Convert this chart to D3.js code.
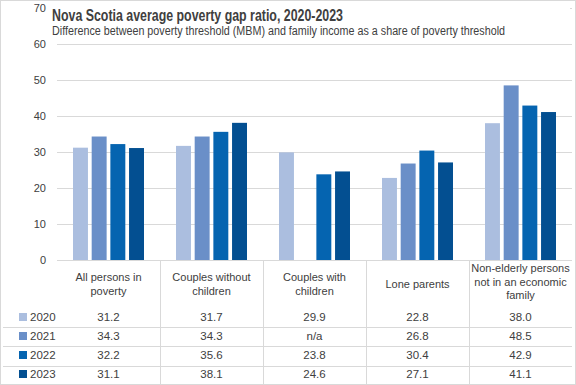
<!DOCTYPE html>
<html><head><meta charset="utf-8">
<script src="https://cdn.jsdelivr.net/npm/d3@7"></script>
<style>
body{margin:0;background:#fff;}
svg text{font-family:"Liberation Sans",Arial,sans-serif;fill:#404040;}
</style></head>
<body><svg id="c" width="576" height="385"></svg>
<script>
const categories = [["All persons in","poverty"],["Couples without","children"],["Couples with","children"],["Lone parents"],["Non-elderly persons","not in an economic","family"]];
const years = ["2020","2021","2022","2023"];
const v2020 = [31.2,31.7,29.9,22.8,38.0];
const v2021 = [34.3,34.3,null,26.8,48.5];
const v2022 = [32.2,35.6,23.8,30.4,42.9];
const v2023 = [31.1,38.1,24.6,27.1,41.1];
const labels2021 = ["34.3","34.3","n/a","26.8","48.5"];
const yTicks = [0,10,20,30,40,50,60,70];
const colors = ["#abbedf","#6a8fc8","#0564b0","#034f91"];
const title = "Nova Scotia average poverty gap ratio, 2020-2023";
const subtitle = "Difference between poverty threshold (MBM) and family income as a share of poverty threshold";

const series = [v2020,v2021,v2022,v2023];
const tableText = [v2020.map(d=>d.toFixed(1)), labels2021, v2022.map(d=>d.toFixed(1)), v2023.map(d=>d.toFixed(1))];

const svg = d3.select("#c");
const L=57, R=572, Y0=260, Y70=8;
const x0 = d3.scaleBand().domain(d3.range(categories.length)).range([L,R]);
const x1 = d3.scaleBand().domain(d3.range(years.length)).range([16,87]).paddingInner(0.2);
const y = d3.scaleLinear().domain([0,70]).range([Y0,Y70]);

svg.append("rect").attr("x",0.5).attr("y",0.5).attr("width",575).attr("height",384).attr("fill","#fff").attr("stroke","#d9d9d9");

// gridlines
svg.append("g").selectAll("line").data(yTicks).join("line")
  .attr("x1",L).attr("x2",R).attr("y1",d=>Math.round(y(d))+0.5).attr("y2",d=>Math.round(y(d))+0.5)
  .attr("stroke","#d9d9d9").attr("stroke-width",1);

// y axis labels
const yAxis = d3.axisLeft(y).tickValues(yTicks).tickSize(0).tickPadding(0);
const ga = svg.append("g").attr("transform",`translate(46,0)`).call(yAxis);
ga.select(".domain").remove();
ga.selectAll("text").attr("font-size","11px").attr("fill","#404040").attr("font-family","Liberation Sans, Arial, sans-serif");

// title block
svg.append("rect").attr("x",50).attr("y",4).attr("width",520).attr("height",36).attr("fill","#fff");
svg.append("text").attr("x",52).attr("y",21).attr("font-size","16px").attr("font-weight","bold")
  .attr("font-family","Liberation Sans Narrow, Liberation Sans, Arial, sans-serif").attr("fill","#000")
  .attr("textLength",291).attr("lengthAdjust","spacingAndGlyphs").text(title);
svg.append("text").attr("x",52).attr("y",35).attr("font-size","12px").attr("fill","#262626")
  .attr("textLength",453).attr("lengthAdjust","spacingAndGlyphs").text(subtitle);

// bars
const gb = svg.append("g");
series.forEach((s,si)=>{
  gb.append("g").selectAll("rect").data(s.map((v,i)=>({v,i})).filter(d=>d.v!=null)).join("rect")
    .attr("x",d=>x0(d.i)+x1(si)).attr("width",x1.bandwidth())
    .attr("y",d=>y(d.v)).attr("height",d=>Y0-y(d.v)).attr("fill",colors[si]);
});

// table lines
const tl = svg.append("g").attr("stroke","#d9d9d9").attr("stroke-width",1);
[327,346,366].forEach(yy=>tl.append("line").attr("x1",3).attr("x2",R).attr("y1",yy+0.5).attr("y2",yy+0.5));
d3.range(1,categories.length).forEach(i=>{
  const xx = Math.round(x0(i))+0.5;
  tl.append("line").attr("x1",xx).attr("x2",xx).attr("y1",Y0).attr("y2",384);
});

// category labels
const cg = svg.append("g");
categories.forEach((lines,i)=>{
  const cx = x0(i)+x0.bandwidth()/2;
  const lh = 13.5;
  const mid = lines.length===3 ? 282 : 284;
  const start = mid - (lines.length-1)*lh/2;
  lines.forEach((t,k)=>{
    cg.append("text").attr("x",cx).attr("y",start+k*lh).attr("dy","0.35em").attr("text-anchor","middle")
      .attr("font-size","11px").text(t);
  });
});

// table rows
const rowY = [317,336,355,374];
years.forEach((yr,r)=>{
  svg.append("rect").attr("x",19).attr("y",rowY[r]-4).attr("width",8).attr("height",8).attr("fill",colors[r]);
  svg.append("text").attr("x",30).attr("y",rowY[r]).attr("dy","0.35em").attr("font-size","11.5px").text(yr);
  tableText[r].forEach((t,i)=>{
    svg.append("text").attr("x",x0(i)+x0.bandwidth()/2).attr("y",rowY[r]).attr("dy","0.35em")
      .attr("text-anchor","middle").attr("font-size","11.5px").text(t);
  });
});
</script></body></html>
